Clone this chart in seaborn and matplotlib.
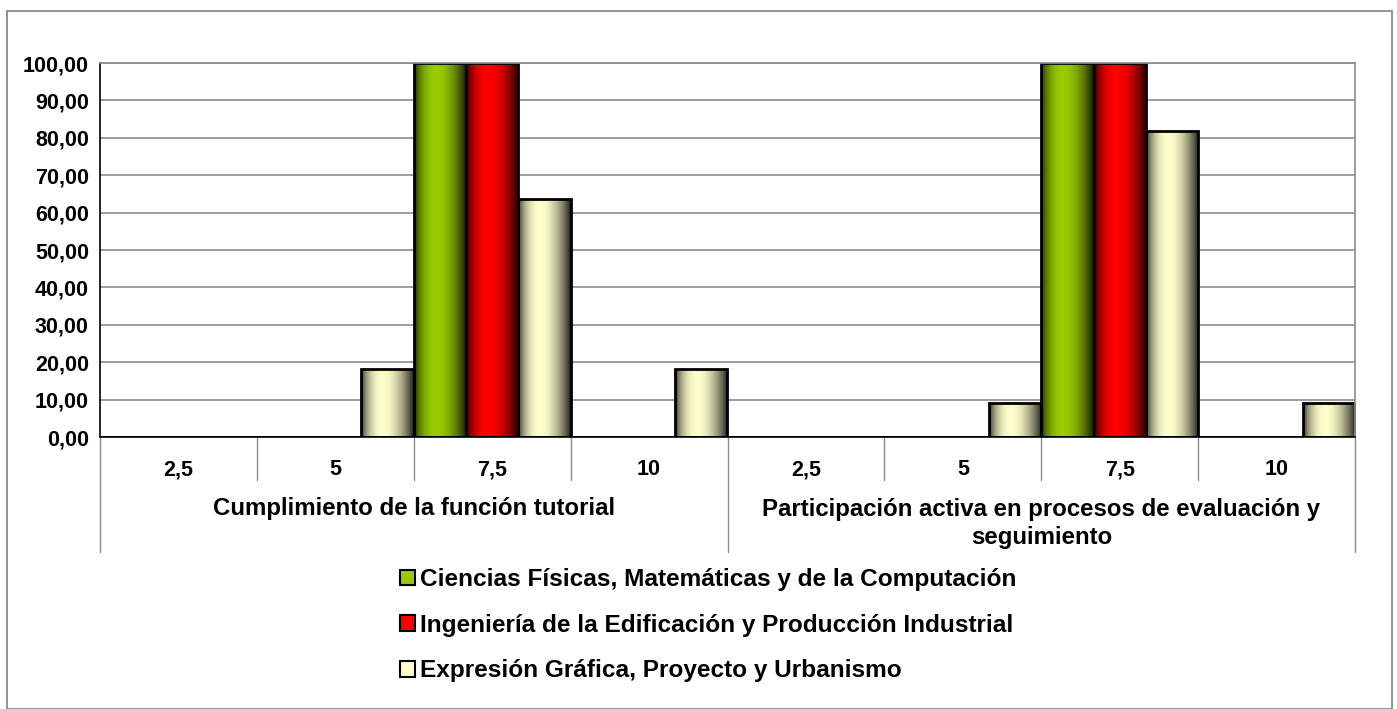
import numpy as np
import pandas as pd
import seaborn as sns
import matplotlib.pyplot as plt
from matplotlib.patches import Patch, Rectangle
from matplotlib.colors import to_rgb

# Data
subcats = ["2,5", "5", "7,5", "10"]
groups = ["Cumplimiento de la función tutorial",
          "Participación activa en procesos de evaluación y\nseguimiento"]
series = ["Ciencias Físicas, Matemáticas y de la Computación",
          "Ingeniería de la Edificación y Producción Industrial",
          "Expresión Gráfica, Proyecto y Urbanismo"]
ciencias = [0, 0, 100, 0, 0, 0, 100, 0]
ingenieria = [0, 0, 100, 0, 0, 0, 100, 0]
expresion = [0, 18.18, 63.64, 18.18, 0, 9.09, 81.82, 9.09]
colors = ["#99CC00", "#FF0000", "#FFFFCC"]

positions = list(range(len(ciencias)))
df = pd.DataFrame({
    "pos": positions * 3,
    "valor": ciencias + ingenieria + expresion,
    "serie": [series[0]] * 8 + [series[1]] * 8 + [series[2]] * 8,
})

sns.set_style("white")
plt.rcParams['font.family'] = ['Liberation Sans', 'DejaVu Sans']
plt.rcParams['font.weight'] = 'bold'
plt.rcParams['text.color'] = 'black'
plt.rcParams['xtick.color'] = 'black'
plt.rcParams['ytick.color'] = 'black'

W, H = 1397, 709
fig = plt.figure(figsize=(W / 100, H / 100), dpi=100)
ax = fig.add_axes([100 / W, 1 - 437 / H, (1355 - 100) / W, (437 - 63) / H])

sns.barplot(data=df, x="pos", y="valor", hue="serie", palette=colors,
            width=1.0, gap=0, dodge=True, legend=False, ax=ax, saturation=1,
            edgecolor="black", linewidth=2, errorbar=None)

# gradient shading inside each bar (dark edges, bright centre)
t = np.linspace(0, 1, 200)
shade = np.clip(np.sin(np.pi * (t ** 0.8)) ** 0.8, 0, 1)
shade = 0.08 + 0.92 * shade
for bar in ax.patches:
    h = bar.get_height()
    if h <= 0:
        continue
    base = np.array(to_rgb(bar.get_facecolor()))
    img = (shade[:, None] * base[None, :])[None, :, :]
    x0, w = bar.get_x(), bar.get_width()
    im = ax.imshow(img, extent=[x0, x0 + w, 0, h], aspect="auto",
                   zorder=bar.get_zorder(), interpolation="bilinear")
    im.set_clip_path(bar)
    bar.set_facecolor("none")
    bar.set_zorder(bar.get_zorder() + 0.5)
ax.set_xlim(-0.5, len(positions) - 0.5)
ax.set_ylim(0, 100)

# y axis
ax.set_yticks(np.arange(0, 101, 10))
ax.set_yticklabels([f"{v:.2f}".replace(".", ",") for v in np.arange(0, 101, 10)],
                   fontsize=15.5, fontweight="bold")
ax.tick_params(axis="y", length=5, width=1, color="black", direction="out", pad=3)
ax.yaxis.grid(True, color="#8c8c8c", linewidth=1.2)
ax.set_axisbelow(True)
ax.set_ylabel("")
ax.set_xlabel("")

# x axis labels
ax.set_xticks(positions)
ax.set_xticklabels(subcats * 2, fontsize=15.5, fontweight="bold")
ax.tick_params(axis="x", length=0, pad=16)

for s in ["left", "bottom"]:
    ax.spines[s].set_color("black")
    ax.spines[s].set_linewidth(1.2)
for s in ["top", "right"]:
    ax.spines[s].set_color("#8c8c8c")
    ax.spines[s].set_linewidth(1.2)

# separators under the axis
tr = ax.get_xaxis_transform()
ph = 437 - 63
for k in range(len(positions) + 1):
    xb = k - 0.5
    low = -(552 - 437) / ph if k % 4 == 0 else -(480 - 437) / ph
    ax.plot([xb, xb], [0, low], color="#8c8c8c", linewidth=1, transform=tr, clip_on=False)

ax.text(1.5, -(509 - 437) / ph, groups[0], transform=tr, ha="center", va="center",
        fontsize=17.3, fontweight="bold")
ax.text(5.5, -(498 - 437) / ph, groups[1], transform=tr, ha="center", va="top",
        fontsize=17.3, fontweight="bold", linespacing=1.3)

# legend
handles = [Patch(facecolor=c, edgecolor="black", linewidth=1.5) for c in colors]
fig.legend(handles, series, loc="upper left", bbox_to_anchor=(378 / W, 1 - 546 / H),
           frameon=False, handlelength=0.6, handleheight=0.6,
           handletextpad=0.2, labelspacing=0.93, prop={"weight": "bold", "size": 17.6})

# outer chart border
fig.patches.append(Rectangle((7 / W, 0), (1392 - 7) / W, 1 - 11 / H,
                             transform=fig.transFigure, fill=False,
                             edgecolor="#808080", linewidth=1.2))

fig.savefig("out.png", dpi=100)
